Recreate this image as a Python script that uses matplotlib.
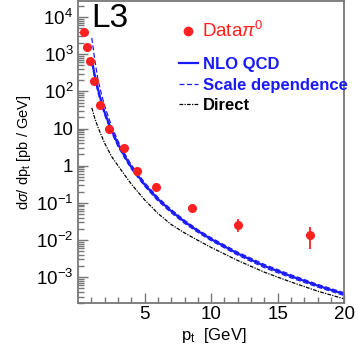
import numpy as np
import matplotlib
matplotlib.use("Agg")
import matplotlib.pyplot as plt
from matplotlib.lines import Line2D

plt.rcParams['font.family'] = ['Liberation Sans', 'DejaVu Sans']
plt.rcParams['mathtext.fontset'] = 'custom'
plt.rcParams['mathtext.rm'] = 'Liberation Sans'
plt.rcParams['mathtext.it'] = 'Liberation Sans:italic'

# data points
pt_data = [0.43, 0.65, 0.88, 1.18, 1.63, 2.3, 3.43, 4.4, 5.83, 8.53, 12.05, 17.4]
xs_data = [4000, 1580, 660, 190, 44, 10, 2.9, 0.74, 0.26, 0.071, 0.026, 0.0134]
err_lo = [0, 0, 0, 0, 4, 1.2, 0.4, 0.15, 0.03, 0.014, 0.0096, 0.0078]
err_hi = [0, 0, 0, 0, 4, 1.2, 0.4, 0.15, 0.03, 0.022, 0.010, 0.0086]
xerr = [0.1, 0.1, 0.1, 0.1, 0.15, 0.2, 0.25, 0.25, 0.0, 0.25, 0.2, 0.25]

# theory curves, common pt grid
pt_th = [1.03, 1.25, 1.5, 1.75, 2.0, 2.5, 3.0, 3.5, 4.0, 5.0, 6.0, 7.0, 8.0, 9.0,
         10.0, 12.0, 14.0, 16.0, 18.0, 20.0]
xs_nlo = [700, 270, 112, 52, 27, 9.2, 3.8, 1.8, 0.92, 0.31, 0.126, 0.060, 0.031, 0.0175,
          0.0105, 0.0043, 0.0020, 0.00106, 0.00059, 0.00035]
xs_scale_up = [2750, 700, 200, 85, 40, 12, 4.6, 2.1, 1.05, 0.35, 0.14, 0.066, 0.034, 0.019,
               0.0115, 0.0047, 0.0022, 0.00116, 0.00064, 0.00038]
xs_scale_dn = [560, 220, 92, 44, 23, 8.0, 3.3, 1.6, 0.82, 0.28, 0.113, 0.054, 0.028, 0.016,
               0.0096, 0.0039, 0.0018, 0.00096, 0.00054, 0.00032]
xs_dir = [36, 19, 10.6, 6.5, 4.0, 1.8, 1.0, 0.56, 0.32, 0.12, 0.052, 0.026, 0.0155, 0.0098,
          0.0063, 0.0028, 0.00136, 0.00074, 0.00042, 0.00026]

yticks = [1e-3, 1e-2, 1e-1, 1, 10, 1e2, 1e3, 1e4]
ylabels = ['$10^{-3}$', '$10^{-2}$', '$10^{-1}$', '1', '10', '$10^{2}$', '$10^{3}$', '$10^{4}$']
xticks = [5, 10, 15, 20]

red = '#ff2020'
blue = '#1a1aff'
dash = (0, (4, 2))
dashdot = (0, (3, 1, 1, 1))


def main():
    fig = plt.figure(figsize=(3.6, 3.46), dpi=100)
    ax = fig.add_axes([0.217, 0.124, 0.739, 0.873])

    ax.plot(pt_th, xs_nlo, color=blue, lw=1.6)
    ax.plot(pt_th, xs_scale_up, color=blue, lw=0.9, ls=dash)
    ax.plot(pt_th, xs_scale_dn, color=blue, lw=0.9, ls=dash)
    ax.plot(pt_th, xs_dir, color='black', lw=0.9, ls=dashdot)
    ax.errorbar(pt_data, xs_data, yerr=[err_lo, err_hi], xerr=xerr, fmt='o',
                color=red, ms=5.5, elinewidth=1.3, capsize=0)

    ax.set_yscale('log')
    ax.set_xlim(0, 20)
    ax.set_ylim(2.0e-4, 2.7e4)
    ax.set_yticks(yticks)
    ax.set_yticklabels(ylabels)
    ax.set_xticks(xticks)
    ax.set_xticks(np.arange(1, 20), minor=True)
    ax.tick_params(which='both', direction='in', top=False, right=False,
                   labelsize=13.5, color='#777777')
    ax.tick_params(which='major', length=7, width=1)
    ax.tick_params(which='minor', length=4, width=1)
    ax.tick_params(axis='y', which='minor', labelleft=False)
    ax.tick_params(axis='x', pad=2)
    for s in ax.spines.values():
        s.set_color('#777777')
        s.set_linewidth(1.3)

    ax.set_ylabel('d$\\sigma$/ dp$_\\mathrm{t}$ [pb / GeV]', fontsize=10.5, labelpad=2)
    ax.set_xlabel('p$_\\mathrm{t}$  [GeV]', fontsize=12, va='top')
    ax.xaxis.set_label_coords(0.51, -0.077)

    ax.text(0.05, 0.995, 'L3', transform=ax.transAxes, fontsize=24, va='top', ha='left')

    # legend: data row on its own (larger font), theory rows below
    leg1 = ax.legend([Line2D([], [], color=red, marker='o', ls='none', ms=6)],
                     ['Data$\\pi^0$'], loc='center left', bbox_to_anchor=(0.355, 0.90),
                     frameon=False, handlelength=0.8, handletextpad=0.35, borderaxespad=0,
                     prop={'size': 13.5})
    leg1.get_texts()[0].set_color(red)
    ax.add_artist(leg1)

    handles = [
        Line2D([], [], color=blue, lw=1.6),
        Line2D([], [], color=blue, lw=0.9, ls=dash),
        Line2D([], [], color='black', lw=0.9, ls=dashdot),
    ]
    labels = ['NLO QCD', 'Scale dependence', 'Direct']
    leg2 = ax.legend(handles, labels, loc='upper left', bbox_to_anchor=(0.355, 0.836),
                     frameon=False, handlelength=1.1, handletextpad=0.3,
                     labelspacing=0.32, borderaxespad=0, prop={'size': 12, 'weight': 'bold'})
    for t, c in zip(leg2.get_texts(), [blue, blue, 'black']):
        t.set_color(c)

    fig.savefig('out.png', dpi=100)


if __name__ == "__main__":
    main()
